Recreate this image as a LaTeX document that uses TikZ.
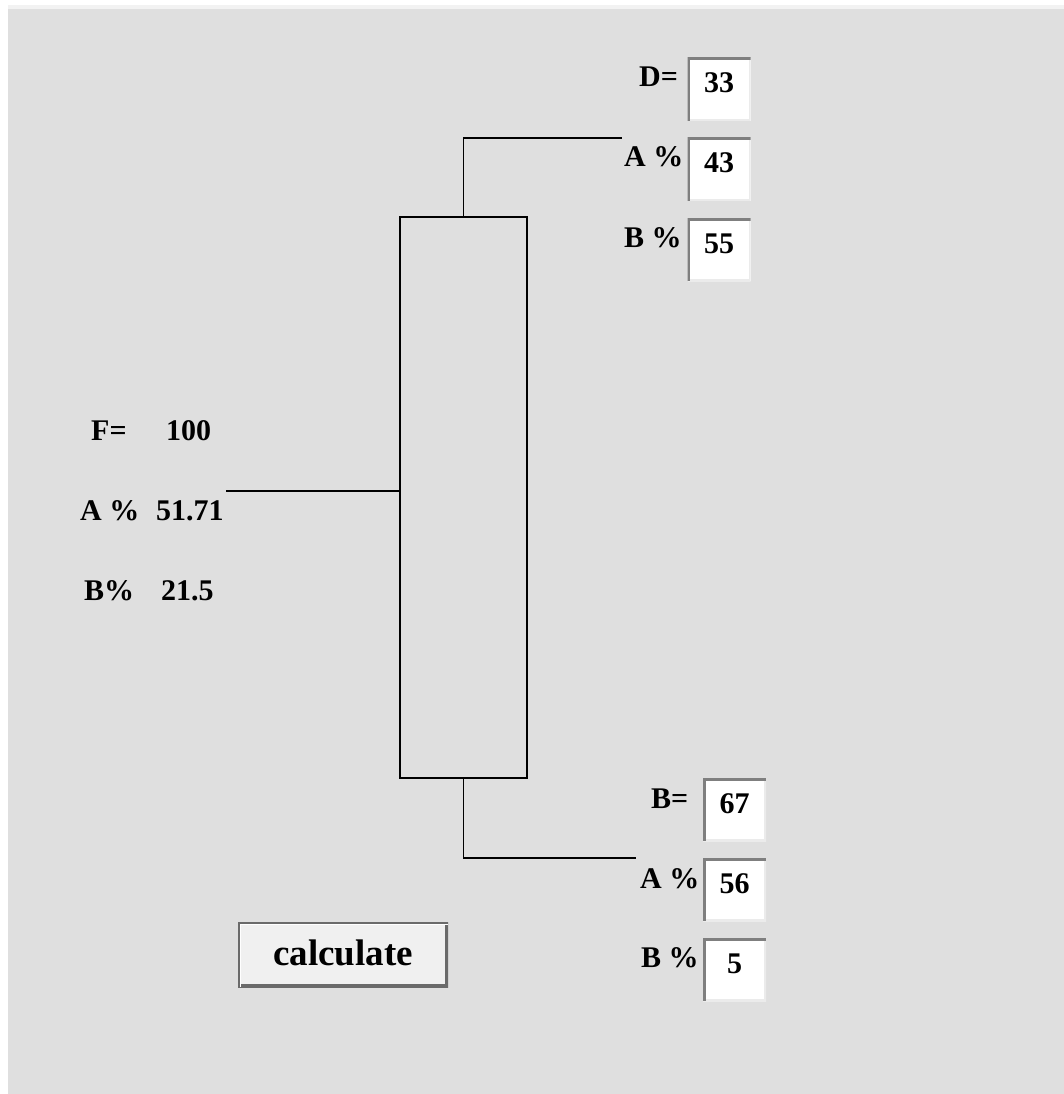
\documentclass[tikz,border=0pt]{standalone}
\usepackage{fontspec}
\setmainfont{Liberation Serif}
\definecolor{panel}{HTML}{DFDFDF}
\definecolor{strip}{HTML}{F2F2F2}
\definecolor{frameDark}{HTML}{7F7F7F}
\definecolor{frameLight}{HTML}{EBEBEB}
\definecolor{btnFill}{HTML}{F0F0F0}
\definecolor{btnEdge}{HTML}{6A6A6A}
\begin{document}
\begin{tikzpicture}[x=1pt,y=-1pt,
  pipe/.style={line width=1.6pt, black},
  column/.style={draw=black, line width=1.6pt, minimum width=127pt, minimum height=561pt, inner sep=0pt},
  lbl/.style={font=\fontsize{30}{30}\selectfont\bfseries, inner sep=0pt, anchor=base west},
  tbox/.style={font=\fontsize{30}{30}\selectfont\bfseries, fill=white, inner sep=0pt, anchor=base,
     minimum width=63pt, text height=35pt, text depth=28pt, align=center,
     path picture={
       \draw[frameLight, line width=4pt] (path picture bounding box.north east) -- (path picture bounding box.south east) -- (path picture bounding box.south west);
       \draw[frameDark, line width=5pt] (path picture bounding box.south west) -- (path picture bounding box.north west) -- (path picture bounding box.north east);
     }},
  button/.style={font=\fontsize{37}{37}\selectfont\bfseries, fill=btnFill, inner sep=0pt, anchor=base,
     minimum width=210pt, text height=43pt, text depth=22pt,
     path picture={
       \draw[btnEdge, line width=7pt] (path picture bounding box.north east) -- (path picture bounding box.south east) -- (path picture bounding box.south west);
       \draw[white, line width=6pt] (path picture bounding box.south west) -- (path picture bounding box.north west) -- (path picture bounding box.north east);
       \draw[btnEdge, line width=4pt] (path picture bounding box.south west) -- (path picture bounding box.north west) -- (path picture bounding box.north east);
     }}
]
\useasboundingbox (0,0) rectangle (1064,1094);
\fill[white] (0,0) rectangle (1064,1094);
\fill[strip] (8,5) rectangle (1064,9);
\fill[panel] (8,9) rectangle (1064,1094);

% column
\node[column] (col) at (463.5,497.5) {};
\coordinate (dout) at (622,138);
\coordinate (bout) at (636,858);
\coordinate (fin) at (226,491);
\draw[pipe] (col.north) |- (dout);
\draw[pipe] (col.south) |- (bout);
\draw[pipe] (fin) -- (col.west |- fin);

% feed labels
\node[lbl] (fl) at (91,440) {F=};
\node[lbl] (fv) at (166,440) {100};
\node[lbl] (fal) at (80,520) {A \%};
\node[lbl] (fav) at (156,520) {51.71};
\node[lbl] (fbl) at (84,600) {B\%};
\node[lbl] (fbv) at (161,600) {21.5};

% distillate
\node[lbl] (dl) at (639,87) {D=};
\node[lbl] (dal) at (624,167) {A \%};
\node[lbl] (dbl) at (624,247) {B \%};
\node[tbox] (dv) at (719,93) {33};
\node[tbox] (dav) at (719,172.5) {43};
\node[tbox] (dbv) at (719,253) {55};

% bottoms
\node[lbl] (bl) at (651,808) {B=};
\node[lbl] (bal) at (640,888) {A \%};
\node[lbl] (bbl) at (641,967) {B \%};
\node[tbox] (bv) at (734.5,813) {67};
\node[tbox] (bav) at (734.5,893) {56};
\node[tbox] (bbv) at (734.5,973) {5};

% button
\node[button] (calc) at (343,965) {calculate};
\end{tikzpicture}
\end{document}
